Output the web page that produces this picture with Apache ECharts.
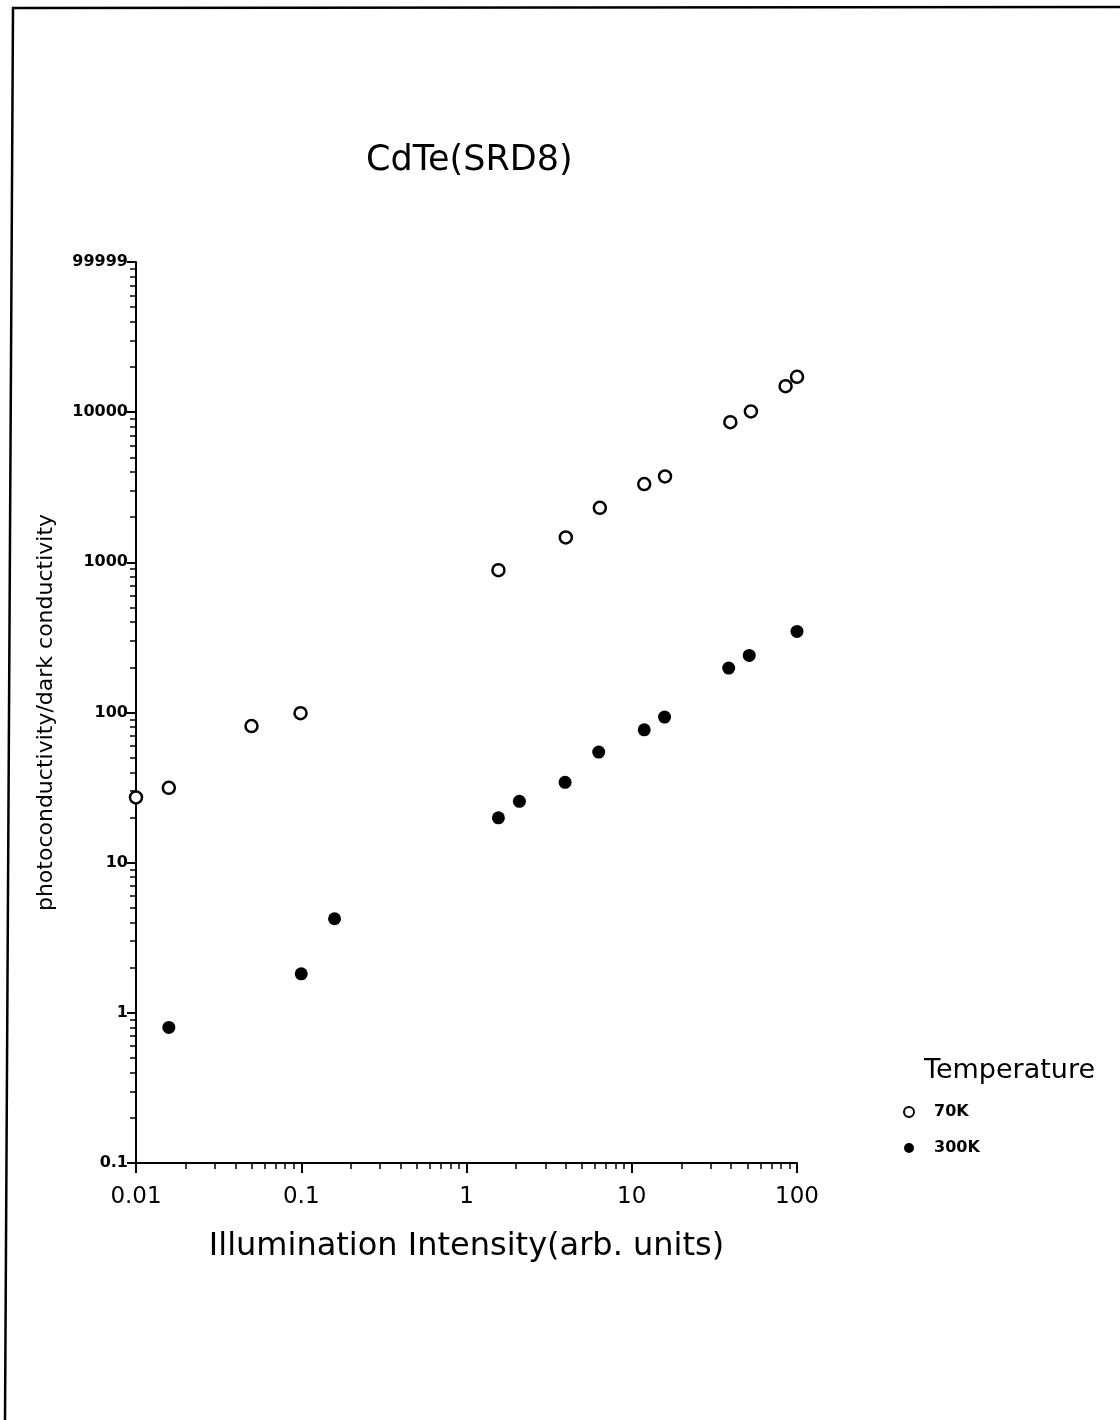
<!DOCTYPE html>
<html>
<head>
<meta charset="utf-8">
<title>CdTe(SRD8)</title>
<script src="https://cdn.jsdelivr.net/npm/echarts@6/dist/echarts.min.js"></script>
<style>
  html, body { margin: 0; padding: 0; background: #fff; }
  #chart { width: 1120px; height: 1420px; }
</style>
</head>
<body>
<div id="chart"></div>
<script>
// Photoconductivity ratio of CdTe (SRD8) versus illumination intensity at two temperatures.
const seriesNames = ['70K', '300K'];

const intensity70K = [0.01, 0.0158, 0.05, 0.099, 1.56, 3.99, 6.41, 11.9, 15.9, 39.5, 52.6, 85.3, 100];
const ratio70K     = [27.2, 31.5, 81.2, 99, 887, 1465, 2306, 3318, 3733, 8577, 10110, 14900, 17180];

const intensity300K = [0.0158, 0.1, 0.159, 1.56, 2.09, 3.95, 6.31, 11.9, 15.8, 38.6, 51.4, 100];
const ratio300K     = [0.80, 1.82, 4.23, 19.9, 25.6, 34.3, 54.5, 76.7, 93.2, 197.6, 240, 346.7];

const xTickValues = [0.01, 0.1, 1, 10, 100];
const xTickLabels = ['0.01', '0.1', '1', '10', '100'];
const yTickValues = [0.1, 1, 10, 100, 1000, 10000, 100000];
const yTickLabels = ['0.1', '1', '10', '100', '1000', '10000', '99999'];

// Minor log ticks at 2..9 within every decade
function minorTicks(majors) {
  const out = [];
  for (let i = 0; i < majors.length - 1; i++) {
    for (let m = 2; m <= 9; m++) out.push(majors[i] * m);
  }
  return out;
}
const xMinor = minorTicks(xTickValues);
const yMinor = minorTicks(yTickValues);

function labelFor(values, labels) {
  return function (v) {
    for (let i = 0; i < values.length; i++) {
      if (Math.abs(Math.log10(v) - Math.log10(values[i])) < 1e-6) return labels[i];
    }
    return '';
  };
}

const FONT = 'DejaVu Sans';
const BLACK = '#000';

const chart = echarts.init(document.getElementById('chart'), null, { renderer: 'canvas' });

chart.setOption({
  backgroundColor: '#fff',
  animation: false,
  title: [
    {
      text: 'CdTe(SRD8)',
      left: 366, top: 143, padding: 0,
      textStyle: { fontFamily: FONT, fontSize: 35, fontWeight: 'normal', color: BLACK }
    },
    {
      text: 'Temperature',
      left: 924, top: 1057, padding: 0,
      textStyle: { fontFamily: FONT, fontSize: 27, fontWeight: 'normal', color: BLACK }
    }
  ],
  legend: {
    data: seriesNames,
    orient: 'vertical',
    left: 903, top: 1104,
    padding: 0,
    itemWidth: 40, itemHeight: 10,
    itemGap: 20,
    textStyle: { fontFamily: FONT, fontSize: 16, fontWeight: 'bold', color: BLACK }
  },
  grid: { left: 136, right: 323, top: 262, bottom: 257, containLabel: false },
  xAxis: [
    {
      type: 'log', logBase: 10, min: 0.01, max: 100, position: 'bottom',
      name: 'Illumination Intensity(arb. units)',
      nameLocation: 'middle', nameGap: 68,
      nameTextStyle: { fontFamily: FONT, fontSize: 32, color: BLACK },
      axisLine: { show: true, lineStyle: { color: BLACK, width: 2 } },
      axisTick: { show: true, inside: false, length: 10, customValues: xTickValues, lineStyle: { color: BLACK, width: 2 } },
      axisLabel: { show: true, margin: 23, customValues: xTickValues, formatter: labelFor(xTickValues, xTickLabels),
        fontFamily: FONT, fontSize: 23, color: BLACK },
      splitLine: { show: false }, minorTick: { show: false }
    },
    {
      type: 'log', logBase: 10, min: 0.01, max: 100, position: 'bottom',
      axisLine: { show: false },
      axisTick: { show: true, inside: false, length: 6, customValues: xMinor, lineStyle: { color: BLACK, width: 1.5 } },
      axisLabel: { show: false },
      splitLine: { show: false }
    }
  ],
  yAxis: [
    {
      type: 'log', logBase: 10, min: 0.1, max: 100000, position: 'left',
      name: 'photoconductivity/dark conductivity',
      nameLocation: 'middle', nameGap: 79,
      nameTextStyle: { fontFamily: FONT, fontSize: 22, color: BLACK },
      axisLine: { show: true, lineStyle: { color: BLACK, width: 2 } },
      axisTick: { show: true, inside: false, length: 9, customValues: yTickValues, lineStyle: { color: BLACK, width: 2 } },
      axisLabel: { show: true, margin: 8, customValues: yTickValues, formatter: labelFor(yTickValues, yTickLabels),
        fontFamily: FONT, fontSize: 16, fontWeight: 'bold', color: BLACK },
      splitLine: { show: false }, minorTick: { show: false }
    },
    {
      type: 'log', logBase: 10, min: 0.1, max: 100000, position: 'left',
      axisLine: { show: false },
      axisTick: { show: true, inside: false, length: 6, customValues: yMinor, lineStyle: { color: BLACK, width: 1.5 } },
      axisLabel: { show: false },
      splitLine: { show: false }
    }
  ],
  series: [
    {
      name: seriesNames[0], type: 'scatter', xAxisIndex: 0, yAxisIndex: 0,
      symbol: 'circle', symbolSize: 12, clip: false,
      itemStyle: { color: '#fff', borderColor: BLACK, borderWidth: 2.5, opacity: 1 },
      emphasis: { disabled: true },
      data: intensity70K.map((x, i) => [x, ratio70K[i]])
    },
    {
      name: seriesNames[1], type: 'scatter', xAxisIndex: 0, yAxisIndex: 0,
      symbol: 'circle', symbolSize: 13, clip: false,
      itemStyle: { color: BLACK, opacity: 1 },
      emphasis: { disabled: true },
      data: intensity300K.map((x, i) => [x, ratio300K[i]])
    }
  ],
  graphic: [
    {
      type: 'polyline', silent: true,
      shape: { points: [[5, 1420], [13, 8], [1120, 7]] },
      style: { stroke: BLACK, lineWidth: 2.5, fill: null }
    }
  ]
});
</script>
</body>
</html>
